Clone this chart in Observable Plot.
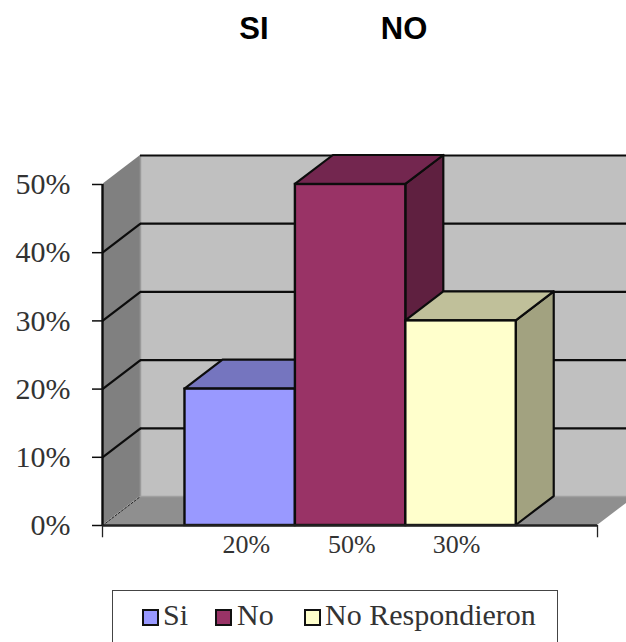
<!DOCTYPE html>
<html>
<head>
<meta charset="utf-8">
<script src="https://cdn.jsdelivr.net/npm/d3@7"></script>
<script src="https://cdn.jsdelivr.net/npm/@observablehq/plot@0.6"></script>
<style>
  html, body { margin: 0; padding: 0; background: #fff; overflow: hidden; }
  #head { position: relative; height: 130px; font: bold 31px "Liberation Sans", Arial, sans-serif; color: #000; }
  #head span { position: absolute; top: 11px; transform: translateX(-50%); }
  #chart svg { display: block; }
  #legend { position: absolute; left: 112px; top: 590px; width: 446px; height: 60px; box-sizing: border-box;
    border: 1.5px solid #444; font: 30px "Liberation Serif", serif; color: #333; }
  #legend .sw { position: absolute; top: 18px; width: 13px; height: 13px; border: 2.2px solid #111; }
  #legend .lb { position: absolute; top: 7px; white-space: nowrap; }
</style>
</head>
<body>
<div id="head"></div>
<div id="chart"></div>
<div id="legend"></div>
<script>
const titles = ["SI", "NO"];
const categories = ["Si", "No", "No Respondieron"];
const values = [20, 50, 30];
const valueLabels = ["20%", "50%", "30%"];
const frontColors = ["#9999ff", "#993366", "#ffffcc"];
const topColors = ["#7575bf", "#73264f", "#c0c09a"];
const sideColors = ["#7373b3", "#5f2040", "#a2a280"];
const yTicks = [0, 10, 20, 30, 40, 50];
const gridValues = [10, 20, 30, 40, 50];

// Bars occupy one x unit each; the walls extend beyond them
const xMin = -0.747, xMax = 3.736;
const depthX = 0.344, depthY = 4.25;
const ink = "#0c0c0c";
const serif = "Liberation Serif";

// titles
const head = document.getElementById("head");
titles.forEach((t, i) => {
  const s = document.createElement("span");
  s.textContent = t;
  s.style.left = (i === 0 ? 254 : 404) + "px";
  head.appendChild(s);
});

// 3-D faces expressed in data units
const topFace = i => [
  {x1: i, x2: i + 1, y: values[i], fill: topColors[i]},
  {x1: i + depthX, x2: i + 1 + depthX, y: values[i] + depthY, fill: topColors[i]}
];
const sideFace = i => [
  {x: i + 1, y1: 0, y2: values[i], fill: sideColors[i]},
  {x: i + 1 + depthX, y1: depthY, y2: values[i] + depthY, fill: sideColors[i]}
];
const labelNudge = [0.055, 0.01, -0.04];

const chart = Plot.plot({
  width: 626,
  height: 430,
  marginLeft: 102,
  marginRight: 0,
  marginTop: 25,
  marginBottom: 35,
  x: {domain: [xMin, xMax + depthX], range: [102, 635], axis: null},
  y: {domain: [0, 50 + depthY], axis: null},
  color: {type: "identity"},
  marks: [
    // back wall
    Plot.rect([0], {x1: xMin + depthX, x2: xMax + depthX, y1: depthY, y2: 50 + depthY, fill: "#c0c0c0"}),
    // left wall
    Plot.areaY([{x: xMin, y1: 0, y2: 50}, {x: xMin + depthX, y1: depthY, y2: 50 + depthY}],
      {x: "x", y1: "y1", y2: "y2", fill: "#808080"}),
    Plot.ruleX([xMin + depthX], {y1: depthY, y2: 50 + depthY, stroke: "#9a9a9a", strokeWidth: 1.5}),
    // floor
    Plot.areaX([{x1: xMin, x2: xMax, y: 0}, {x1: xMin + depthX, x2: xMax + depthX, y: depthY}],
      {y: "y", x1: "x1", x2: "x2", fill: "#8f8f8f"}),
    Plot.ruleY([depthY], {x1: xMin + depthX, x2: xMax + depthX, stroke: "#a0a0a0", strokeWidth: 1.5}),
    Plot.line([{x: xMin, y: 0}, {x: xMin + depthX, y: depthY}],
      {x: "x", y: "y", stroke: "#222", strokeWidth: 1, strokeDasharray: "2,2"}),
    // gridlines
    Plot.ruleY(gridValues, {x1: xMin + depthX, x2: xMax + depthX, y: d => d + depthY, stroke: ink, strokeWidth: 2.2}),
    Plot.link(gridValues.slice(0, 4), {x1: xMin, y1: d => d, x2: xMin + depthX, y2: d => d + depthY, stroke: ink, strokeWidth: 2.2}),
    // bars, left to right so each overlaps the previous one's side
    ...categories.flatMap((c, i) => [
      Plot.areaY(sideFace(i), {x: "x", y1: "y1", y2: "y2", fill: "fill", stroke: ink, strokeWidth: 2.2}),
      Plot.areaX(topFace(i), {y: "y", x1: "x1", x2: "x2", fill: "fill", stroke: ink, strokeWidth: 2.2}),
      Plot.rect([i], {x1: i, x2: i + 1, y1: 0, y2: values[i], fill: frontColors[i], stroke: ink, strokeWidth: 2.4})
    ]),
    // axes
    Plot.ruleX([xMin], {y1: 0, y2: 50, stroke: ink, strokeWidth: 2.4}),
    Plot.ruleY([0], {x1: xMin, x2: xMax, stroke: "#222", strokeWidth: 2.4}),
    Plot.axisY(yTicks, {
      anchor: "left", tickSize: 10, tickPadding: 22, stroke: ink, strokeWidth: 1.5, label: null,
      tickFormat: d => d + "%", fontSize: 30, fontFamily: serif, color: "#333", fill: "#333"
    }),
    Plot.ruleX([xMin, xMax], {y1: 0, y2: -1.8, stroke: "#222", strokeWidth: 1.3}),
    Plot.text(valueLabels, {
      x: (d, i) => i + 0.5 + labelNudge[i], y: 0, text: d => d, dy: 19,
      fontSize: 26, fontFamily: serif, fill: "#333"
    })
  ]
});
document.getElementById("chart").appendChild(chart);

// legend
const legend = document.getElementById("legend");
const swatchLeft = [29, 102, 191];
const labelLeft = [50, 124, 212];
categories.forEach((c, i) => {
  const s = document.createElement("div");
  s.className = "sw";
  s.style.left = swatchLeft[i] + "px";
  s.style.background = frontColors[i];
  legend.appendChild(s);
  const l = document.createElement("div");
  l.className = "lb";
  l.textContent = c;
  l.style.left = labelLeft[i] + "px";
  legend.appendChild(l);
});
</script>
</body>
</html>
